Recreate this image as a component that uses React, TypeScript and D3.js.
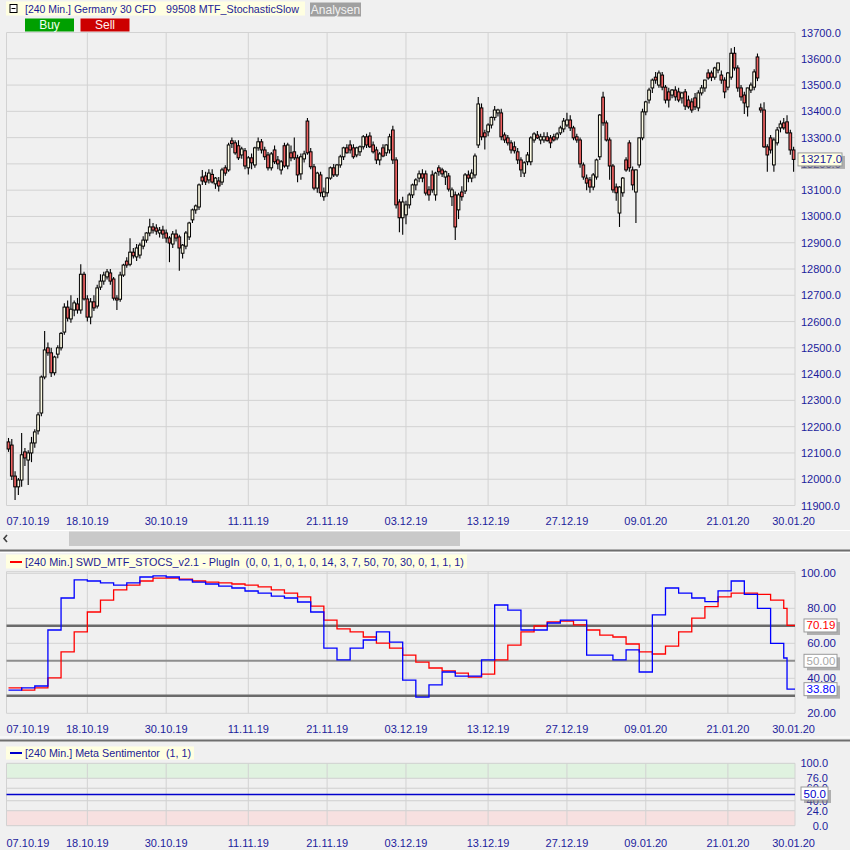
import React from "react";
import * as d3 from "d3";

const W = 850;
const H = 850;
const FONT = "'Liberation Sans', Arial, sans-serif";
const AXIS_BLUE = "#1c1c9c";

// ---- data ----
const tickLabels = ["07.10.19", "18.10.19", "30.10.19", "11.11.19", "21.11.19", "03.12.19", "13.12.19", "27.12.19", "09.01.20", "21.01.20", "30.01.20"];
const tickIndex = [0, 24, 48, 73, 97, 121, 146, 170, 194, 219, 239];

const priceTicks = [11900, 12000, 12100, 12200, 12300, 12400, 12500, 12600, 12700, 12800, 12900, 13000, 13100, 13200, 13300, 13400, 13500, 13600, 13700];
const stochTicks = [100, 80, 60, 40, 20];
const stochLevels = [70, 50, 30];
const sentTicks = [100, 76, 60, 40, 24, 0];
const sentValue = 50;
const lastPrice = 13217.0;

// [open, high, low, close] – DAX CFD, 240 min
const candles: [number, number, number, number][] = [
  [12142,12157,12104,12115],[12130,12153,11997,12012],[12012,12030,11921,11971],[11971,12005,11940,11997],[11997,12176,11971,12093],
  [12104,12119,12050,12081],[12073,12110,11978,12100],[12100,12161,12065,12138],[12138,12190,12120,12180],[12184,12255,12170,12245],
  [12252,12395,12240,12389],[12389,12564,12380,12492],[12500,12520,12470,12481],[12481,12500,12389,12405],[12405,12470,12395,12465],
  [12476,12510,12460,12500],[12500,12560,12490,12555],[12560,12670,12550,12655],[12655,12680,12600,12613],[12610,12700,12595,12647],
  [12644,12680,12620,12671],[12667,12690,12630,12644],[12644,12818,12630,12780],[12780,12790,12680,12686],[12686,12700,12600,12617],
  [12617,12690,12590,12675],[12675,12700,12640,12652],[12659,12740,12650,12728],[12731,12780,12720,12754],[12754,12790,12740,12777],
  [12770,12800,12760,12789],[12785,12800,12740,12754],[12762,12770,12680,12689],[12689,12700,12644,12682],[12685,12790,12675,12777],
  [12777,12820,12770,12815],[12830,12845,12805,12815],[12818,12917,12810,12864],[12864,12880,12840,12850],[12846,12895,12830,12880],
  [12853,12900,12840,12891],[12887,12925,12875,12910],[12910,12940,12900,12937],[12937,12991,12925,12960],[12960,12975,12935,12948],
  [12956,12970,12930,12944],[12937,12960,12920,12948],[12948,12965,12915,12933],[12937,12950,12900,12918],[12918,12925,12826,12899],
  [12895,12945,12880,12933],[12933,12950,12905,12918],[12922,12930,12793,12880],[12860,12895,12840,12891],[12887,12945,12875,12937],
  [12922,12980,12910,12975],[12987,13030,12975,13025],[13025,13045,13010,13040],[13036,13125,13025,13120],[13150,13177,13120,13135],
  [13154,13170,13120,13131],[13139,13180,13125,13165],[13160,13180,13125,13131],[13124,13150,13105,13146],[13135,13150,13095,13116],
  [13131,13185,13120,13177],[13185,13195,13155,13165],[13177,13280,13170,13272],[13288,13300,13260,13277],[13280,13290,13235,13242],
  [13269,13290,13215,13223],[13234,13265,13220,13257],[13250,13260,13180,13192],[13185,13230,13160,13223],[13223,13240,13180,13204],
  [13196,13265,13185,13261],[13261,13300,13250,13284],[13284,13295,13240,13253],[13253,13265,13215,13227],[13234,13245,13175,13185],
  [13185,13245,13175,13238],[13253,13270,13200,13208],[13215,13230,13180,13200],[13177,13215,13160,13208],[13269,13280,13185,13192],
  [13192,13280,13180,13272],[13242,13270,13210,13223],[13246,13300,13215,13223],[13223,13235,13130,13158],[13162,13240,13140,13227],
  [13219,13250,13205,13238],[13363,13375,13235,13242],[13246,13260,13180,13189],[13189,13200,13100,13108],[13108,13170,13090,13165],
  [13158,13170,13075,13090],[13075,13110,13060,13093],[13090,13150,13075,13146],[13146,13190,13140,13185],[13185,13200,13150,13158],
  [13158,13200,13150,13196],[13196,13235,13185,13227],[13227,13265,13215,13261],[13261,13275,13240,13242],[13272,13290,13240,13253],
  [13261,13275,13220,13227],[13234,13265,13225,13261],[13246,13270,13230,13265],[13265,13310,13255,13303],[13303,13315,13260,13272],
  [13306,13320,13260,13265],[13272,13285,13240,13246],[13253,13265,13200,13215],[13215,13245,13195,13238],[13261,13275,13225,13230],
  [13242,13275,13230,13272],[13253,13315,13240,13303],[13329,13345,13200,13215],[13215,13225,13030,13044],[13055,13065,12940,12995],
  [12995,13075,12930,13055],[13006,13060,12970,13044],[13044,13090,13030,13082],[13082,13125,13070,13120],[13120,13145,13100,13139],
  [13146,13175,13130,13162],[13162,13180,13130,13146],[13162,13175,13080,13089],[13101,13115,13060,13082],[13158,13175,13090,13101],
  [13082,13170,13060,13165],[13185,13195,13155,13170],[13177,13185,13150,13162],[13150,13175,13120,13170],[13154,13165,13095,13104],
  [13075,13110,13040,13101],[13082,13095,12910,12960],[13025,13090,12990,13082],[13093,13115,13060,13075],[13097,13165,13085,13158],
  [13158,13175,13130,13146],[13146,13180,13130,13165],[13158,13240,13145,13230],[13272,13455,13260,13428],[13413,13430,13290,13303],
  [13318,13330,13255,13303],[13322,13355,13305,13348],[13348,13380,13335,13377],[13377,13420,13365,13405],[13394,13410,13380,13405],
  [13394,13410,13290,13303],[13310,13320,13280,13291],[13299,13310,13270,13280],[13280,13290,13240,13253],[13265,13285,13240,13250],
  [13246,13260,13200,13215],[13215,13225,13150,13177],[13165,13210,13150,13204],[13208,13245,13195,13234],[13208,13305,13195,13299],
  [13291,13320,13280,13314],[13310,13325,13295,13299],[13291,13315,13275,13303],[13291,13320,13280,13303],[13303,13320,13285,13288],
  [13299,13310,13260,13280],[13303,13315,13285,13291],[13299,13320,13290,13314],[13318,13345,13310,13337],[13333,13375,13320,13363],
  [13348,13395,13340,13367],[13367,13385,13325,13337],[13337,13345,13290,13299],[13303,13315,13280,13291],[13291,13300,13185,13200],
  [13196,13205,13140,13150],[13146,13160,13100,13127],[13139,13150,13090,13112],[13112,13165,13100,13158],[13150,13220,13140,13215],
  [13227,13390,13215,13386],[13454,13475,13345,13356],[13356,13365,13285,13291],[13291,13300,13140,13192],[13192,13200,13090,13101],
  [13112,13125,13060,13090],[13013,13115,12960,13112],[13090,13150,13075,13146],[13215,13225,13170,13177],[13280,13290,13170,13185],
  [13177,13190,13100,13120],[13093,13180,12975,13177],[13196,13300,13185,13299],[13299,13410,13290,13398],[13398,13440,13385,13436],
  [13443,13490,13430,13481],[13489,13525,13470,13519],[13530,13550,13505,13519],[13500,13555,13490,13546],[13538,13550,13480,13492],
  [13492,13500,13430,13443],[13474,13490,13415,13443],[13462,13485,13450,13481],[13481,13495,13440,13455],[13474,13490,13435,13443],
  [13451,13475,13430,13470],[13474,13485,13405,13420],[13443,13460,13410,13417],[13436,13450,13395,13405],[13451,13470,13405,13417],
  [13413,13480,13400,13470],[13470,13500,13460,13489],[13489,13520,13475,13519],[13546,13560,13520,13527],[13546,13555,13515,13530],
  [13530,13570,13520,13565],[13557,13585,13545,13584],[13538,13555,13505,13519],[13519,13530,13450,13474],[13492,13550,13480,13546],
  [13530,13640,13520,13621],[13621,13645,13555,13565],[13565,13575,13475,13489],[13489,13500,13440,13455],[13462,13475,13390,13432],
  [13417,13490,13380,13489],[13481,13510,13470,13500],[13492,13560,13480,13550],[13607,13620,13515,13527],[13413,13430,13395,13405],
  [13405,13435,13260,13265],[13265,13275,13170,13234],[13299,13310,13240,13253],[13196,13300,13170,13291],[13280,13340,13270,13329],
  [13337,13365,13320,13352],[13356,13375,13330,13337],[13360,13385,13315,13318],[13318,13330,13235,13253],[13253,13265,13170,13217],
];

// Stochastic (sampled every STOCH_STEP candles), last value at stochLastIndex
const STOCH_STEP = 4;
const stochBlue = [33.3, 34.5, 35.6, 67.6, 85.9, 96.2, 95.6, 94.5, 93.3, 94.5, 97.9, 98.5, 97.9, 96.2, 95.0, 93.9, 92.7, 91.6, 89.9, 88.7,
  87.0, 85.9, 83.6, 77.9, 57.3, 50.5, 57.3, 61.9, 66.5, 60.7, 39.0, 29.3, 36.2, 43.6, 41.3, 41.3, 50.5, 81.9, 79.0, 67.6,
  67.6, 71.6, 73.3, 73.3, 53.3, 53.3, 50.5, 56.2, 43.6, 76.2, 91.6, 88.7, 85.9, 83.8, 90.0, 95.6, 88.0, 80.0, 60.0, 51.6];
const stochRed = [34.5, 33.3, 34.5, 40.2, 55.1, 66.5, 77.9, 84.7, 90.5, 93.3, 95.6, 97.3, 97.3, 96.7, 95.6, 95.0, 94.5, 93.9, 93.3, 92.2,
  90.5, 88.7, 86.5, 81.3, 73.3, 68.2, 66.5, 63.6, 60.1, 57.3, 53.3, 49.3, 45.9, 44.2, 43.0, 40.7, 42.4, 50.5, 59.0, 66.5,
  69.9, 72.2, 72.7, 70.5, 67.6, 64.7, 63.6, 59.6, 55.1, 53.9, 58.4, 66.5, 74.4, 81.0, 86.5, 88.7, 88.7, 88.0, 84.7, 80.0];
const stochLastIndex = 237;
const stochBlueLast = 33.8;
const stochRedLast = 70.19;

const mainHeader1 = "[240 Min.] Germany 30 CFD";
const mainHeader2 = "99508 MTF_StochasticSlow";
const stochHeader = "[240 Min.] SWD_MTF_STOCS_v2.1 - PlugIn  (0, 0, 1, 0, 1, 0, 14, 3, 7, 50, 70, 30, 0, 1, 1, 1)";
const sentHeader = "[240 Min.] Meta Sentimentor  (1, 1)";

// ---- layout ----
const L = 6.5;
const R = 795;
const PRE = { whiteSpace: "pre" as const };

function ValueBox({ x, yc, w, text, color, fill }: { x: number; yc: number; w: number; text: string; color: string; fill: string }) {
  const h = 13;
  const y = yc - h / 2;
  return (
    <g>
      <rect x={x + 3} y={y + 3} width={w} height={h} fill="#7a7a7a" opacity={0.55} />
      <rect x={x} y={y} width={w} height={h} fill={fill} stroke="#9a9a9a" strokeWidth={1} />
      <text x={x + 2.5} y={yc + 4} fill={color} fontSize={11.5} fontFamily={FONT}>{text}</text>
    </g>
  );
}

export default function App() {
  const x = d3.scaleLinear().domain([0, candles.length - 1]).range([8.5, 793.6]);
  const yMain = d3.scaleLinear().domain([11900, 13700]).range([505.5, 32.5]);
  const yStoch = d3.scaleLinear().domain([20, 100]).range([713.3, 573.3]);
  const ySent = d3.scaleLinear().domain([0, 100]).range([825.7, 763.3]);

  const gridX = tickIndex.slice(1, -1).map((i) => x(i));
  const bodyW = 2.7;

  const stepLine = d3
    .line<[number, number]>()
    .x((d) => x(d[0]))
    .y((d) => yStoch(d[1]))
    .curve(d3.curveStepAfter);

  const mkPts = (vals: number[], last: number): [number, number][] => {
    const pts: [number, number][] = vals.map((v, k) => [k * STOCH_STEP, v]);
    pts.push([stochLastIndex, last]);
    pts.push([x.invert(R), last]);
    return pts;
  };
  const bluePath = stepLine(mkPts(stochBlue, stochBlueLast)) || "";
  const redPath = stepLine(mkPts(stochRed, stochRedLast)) || "";

  const xLabels = (yBase: number) =>
    tickLabels.map((t, i) => {
      const first = i === 0;
      return (
        <text
          key={t + yBase}
          x={first ? L : x(tickIndex[i])}
          y={yBase}
          textAnchor={first ? "start" : "middle"}
          fill={AXIS_BLUE}
          fontSize={11}
          fontFamily={FONT}
        >
          {t}
        </text>
      );
    });

  const vGrid = (y0: number, y1: number) => (
    <g stroke="#d2d2d2" strokeWidth={1}>
      {gridX.map((gx, i) => (
        <line key={i} x1={gx} x2={gx} y1={y0} y2={y1} />
      ))}
      <line x1={L} x2={L} y1={y0} y2={y1} />
      <line x1={R} x2={R} y1={y0} y2={y1} />
    </g>
  );

  return (
    <div style={{ position: "absolute", left: 0, top: 0 }}>
      <svg width={W} height={H} style={{ display: "block" }} fontFamily={FONT}>
        <rect x={0} y={0} width={W} height={H} fill="#f0f0f0" />

        {/* ===== main header ===== */}
        <rect x={6} y={1.5} width={299} height={14} fill="#ffffe1" />
        <rect x={10} y={4.5} width={7} height={8} fill="#ffffff" stroke="#000" strokeWidth={1} />
        <line x1={11.5} x2={15.5} y1={8.5} y2={8.5} stroke="#000" strokeWidth={1} />
        <text x={25} y={12.5} fill="#1c1c96" fontSize={11.5} textLength={131} lengthAdjust="spacingAndGlyphs" style={PRE}>{mainHeader1}</text>
        <text x={166} y={12.5} fill="#1c1c96" fontSize={11.5} textLength={133} lengthAdjust="spacingAndGlyphs" style={PRE}>{mainHeader2}</text>
        <rect x={310} y={2.5} width={51} height={14} fill="#a0a0a0" />
        <text x={335.5} y={13.5} fill="#f2f2f2" fontSize={12} textAnchor="middle">Analysen</text>
        <rect x={25} y={18.5} width={49} height={13} fill="#00a000" />
        <text x={49.5} y={29} fill="#f0fff0" fontSize={12} textAnchor="middle">Buy</text>
        <rect x={80.5} y={18.5} width={49} height={13} fill="#cc0000" />
        <text x={105} y={29} fill="#fff0f0" fontSize={12} textAnchor="middle">Sell</text>

        {/* ===== main grid ===== */}
        <g stroke="#d2d2d2" strokeWidth={1}>
          {priceTicks.map((p) => (
            <line key={p} x1={L} x2={R} y1={yMain(p)} y2={yMain(p)} />
          ))}
        </g>
        {vGrid(yMain(13700), yMain(11900))}

        {/* ===== candles ===== */}
        <g>
          {candles.map(([o, h, l, c], i) => {
            const cx = x(i);
            const up = c >= o;
            const top = yMain(Math.max(o, c));
            const bot = yMain(Math.min(o, c));
            return (
              <g key={i}>
                <line x1={cx} x2={cx} y1={yMain(h)} y2={yMain(l)} stroke="#000" strokeWidth={1.1} />
                <rect
                  x={cx - bodyW / 2}
                  y={top}
                  width={bodyW}
                  height={Math.max(bot - top, 1)}
                  fill={up ? "#fffde6" : "#f06262"}
                  stroke="#000"
                  strokeWidth={1}
                />
              </g>
            );
          })}
        </g>

        {/* main right axis */}
        {priceTicks.map((p) => (
          <text key={p} x={801} y={yMain(p) + 4} fill={AXIS_BLUE} fontSize={11}>
            {p.toFixed(1)}
          </text>
        ))}
        <ValueBox x={798} yc={yMain(lastPrice)} w={44} text={lastPrice.toFixed(1)} color={AXIS_BLUE} fill="#ffffe1" />

        {xLabels(525)}

        {/* scrollbar */}
        <line x1={0} x2={W} y1={530.5} y2={530.5} stroke="#ffffff" strokeWidth={1} />
        <polyline points="7,535 4,538.5 7,542" fill="none" stroke="#404040" strokeWidth={1.6} />
        <rect x={69} y={531.5} width={391} height={14.5} fill="#c9c9c9" />
        <rect x={0} y={549.5} width={W} height={2} fill="#6e6e6e" />
        <line x1={0} x2={W} y1={552.5} y2={552.5} stroke="#ffffff" strokeWidth={1} />

        {/* ===== stochastic panel ===== */}
        <rect x={6} y={554.5} width={461} height={14} fill="#ffffe1" />
        <line x1={10} x2={22} y1={562} y2={562} stroke="#ff0000" strokeWidth={2} />
        <text x={25} y={565.5} fill="#1c1c96" fontSize={11.5} textLength={439} lengthAdjust="spacingAndGlyphs" style={PRE}>{stochHeader}</text>

        <g stroke="#d2d2d2" strokeWidth={1}>
          <line x1={L} x2={R} y1={571.7} y2={571.7} />
          {stochTicks.map((t) => (
            <line key={t} x1={L} x2={R} y1={yStoch(t)} y2={yStoch(t)} />
          ))}
        </g>
        {vGrid(571.7, yStoch(20))}
        {stochLevels.map((lv) => (
          <line
            key={lv}
            x1={L}
            x2={R}
            y1={yStoch(lv)}
            y2={yStoch(lv)}
            stroke={lv === 50 ? "#8e8e8e" : "#6a6a6a"}
            strokeWidth={lv === 50 ? 2 : 2.6}
          />
        ))}
        <path d={redPath} fill="none" stroke="#ff0000" strokeWidth={1.3} />
        <path d={bluePath} fill="none" stroke="#0000ff" strokeWidth={1.3} />

        {stochTicks.map((t) => (
          <text key={t} x={836} y={yStoch(t) + 4} textAnchor="end" fill={AXIS_BLUE} fontSize={11.5}>
            {t.toFixed(2)}
          </text>
        ))}
        <ValueBox x={804} yc={yStoch(stochRedLast)} w={33} text={stochRedLast.toFixed(2)} color="#ff0000" fill="#ffffff" />
        <ValueBox x={804} yc={yStoch(50)} w={33} text={(50).toFixed(2)} color="#a8a8a8" fill="#ffffff" />
        <ValueBox x={804} yc={yStoch(stochBlueLast)} w={33} text={stochBlueLast.toFixed(2)} color="#0000ff" fill="#ffffff" />

        {xLabels(733)}

        <line x1={0} x2={W} y1={737} y2={737} stroke="#ffffff" strokeWidth={1} />
        <rect x={0} y={739.5} width={W} height={2} fill="#6e6e6e" />

        {/* ===== sentimentor panel ===== */}
        <rect x={6} y={746.5} width={188} height={13} fill="#ffffe1" />
        <line x1={10} x2={22} y1={753} y2={753} stroke="#0000cc" strokeWidth={2} />
        <text x={25} y={757} fill="#1c1c96" fontSize={11.5} textLength={166} lengthAdjust="spacingAndGlyphs" style={PRE}>{sentHeader}</text>

        <rect x={L} y={ySent(100)} width={R - L} height={ySent(76) - ySent(100)} fill="#e0f2e0" />
        <rect x={L} y={ySent(24)} width={R - L} height={ySent(0) - ySent(24)} fill="#f7e0e0" />
        <g stroke="#cfcfcf" strokeWidth={1}>
          {sentTicks.map((t) => (
            <line key={t} x1={L} x2={R} y1={ySent(t)} y2={ySent(t)} />
          ))}
        </g>
        {vGrid(ySent(100), ySent(0))}
        <line x1={L} x2={R} y1={ySent(sentValue)} y2={ySent(sentValue)} stroke="#0000cc" strokeWidth={1.4} />

        {sentTicks.map((t) => (
          <text key={t} x={828} y={ySent(t) + 4} textAnchor="end" fill={AXIS_BLUE} fontSize={11}>
            {t.toFixed(1)}
          </text>
        ))}
        <ValueBox x={801} yc={ySent(sentValue) - 1} w={27} text={sentValue.toFixed(1)} color="#0000cc" fill="#ffffff" />

        {xLabels(847)}
      </svg>
    </div>
  );
}
